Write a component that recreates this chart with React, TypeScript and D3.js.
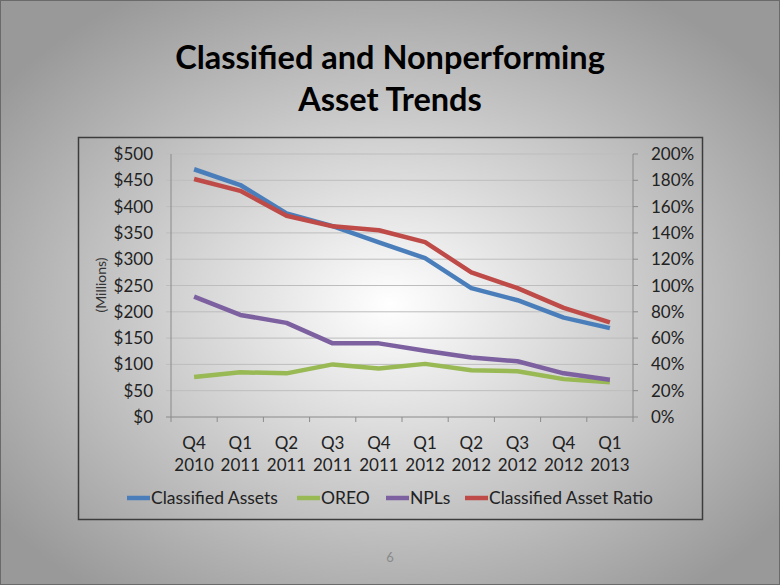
import React, {useRef, useEffect} from 'react';
import * as d3 from 'd3';

const quarters = ['Q4', 'Q1', 'Q2', 'Q3', 'Q4', 'Q1', 'Q2', 'Q3', 'Q4', 'Q1'];
const years = ['2010', '2011', '2011', '2011', '2011', '2012', '2012', '2012', '2012', '2013'];

// $ millions
const classifiedAssets = [471, 441, 387, 363, 332, 302, 245, 222, 189, 169];
const oreo = [76, 85, 83, 100, 92, 101, 89, 87, 72, 66];
const npls = [229, 194, 179, 140, 140, 126, 113, 106, 83, 71];
// percent
const classifiedRatio = [181, 172, 153, 145, 142, 133, 110, 98, 83, 72];

const leftTicks = [0, 50, 100, 150, 200, 250, 300, 350, 400, 450, 500];
const rightTicks = [0, 20, 40, 60, 80, 100, 120, 140, 160, 180, 200];

const seriesInfo = [
    {name: 'Classified Assets', color: '#4a7ebb', values: classifiedAssets, axis: 'left'},
    {name: 'OREO', color: '#98b954', values: oreo, axis: 'left'},
    {name: 'NPLs', color: '#7d60a0', values: npls, axis: 'left'},
    {name: 'Classified Asset Ratio', color: '#be4b48', values: classifiedRatio, axis: 'right'},
];

const W = 780;
const H = 585;
const FONT = 'Lato, "Open Sans", sans-serif';

const App: React.FC = () => {
    const svgRef = useRef<SVGSVGElement>(null);

    useEffect(() => {
        if (!svgRef.current) return;
        const svg = d3.select(svgRef.current);
        svg.selectAll('*').remove();

        // background gradient
        const defs = svg.append('defs');
        const grad = defs.append('radialGradient')
            .attr('id', 'bg')
            .attr('cx', '50%').attr('cy', '52%').attr('r', '62%');
        grad.append('stop').attr('offset', '0%').attr('stop-color', '#ffffff');
        grad.append('stop').attr('offset', '100%').attr('stop-color', '#999999');

        svg.append('rect').attr('width', W).attr('height', H).attr('fill', 'url(#bg)');
        svg.append('rect').attr('x', 0.5).attr('y', 0.5).attr('width', W - 1).attr('height', H - 1)
            .attr('fill', 'none').attr('stroke', '#6a6a6a');

        // title
        const title = svg.append('text')
            .attr('text-anchor', 'middle')
            .style('font-family', FONT)
            .style('font-weight', 'bold')
            .style('font-size', '32.5px')
            .attr('fill', '#000');
        title.append('tspan').attr('x', W / 2).attr('y', 69).text('Classified and Nonperforming');
        title.append('tspan').attr('x', W / 2).attr('y', 111).text('Asset Trends');

        // chart frame
        svg.append('rect').attr('x', 78.5).attr('y', 137.5).attr('width', 624).attr('height', 382)
            .attr('fill', 'none').attr('stroke', '#3c3c3c').attr('stroke-width', 1.5);

        const left = 171, right = 633, top = 154, bottom = 417;

        const x = d3.scaleBand<number>()
            .domain(d3.range(quarters.length))
            .range([left, right]);
        const yL = d3.scaleLinear().domain([0, 500]).range([bottom, top]);
        const yR = d3.scaleLinear().domain([0, 200]).range([bottom, top]);

        // gridlines
        svg.append('g').selectAll('line').data(leftTicks).enter().append('line')
            .attr('x1', left - 5).attr('x2', right)
            .attr('y1', d => yL(d)).attr('y2', d => yL(d))
            .attr('stroke', d => d === 0 ? '#8a8a8a' : '#bdbdbd').attr('stroke-width', 1);

        // right axis ticks
        svg.append('g').selectAll('line').data(rightTicks).enter().append('line')
            .attr('x1', right).attr('x2', right + 5)
            .attr('y1', d => yR(d)).attr('y2', d => yR(d))
            .attr('stroke', '#8a8a8a');

        // axis lines
        svg.append('line').attr('x1', left).attr('x2', left).attr('y1', top).attr('y2', bottom)
            .attr('stroke', '#8a8a8a');
        svg.append('line').attr('x1', right).attr('x2', right).attr('y1', top).attr('y2', bottom)
            .attr('stroke', '#8a8a8a');

        // category ticks
        svg.append('g').selectAll('line').data(d3.range(quarters.length + 1)).enter().append('line')
            .attr('x1', d => left + d * x.bandwidth()).attr('x2', d => left + d * x.bandwidth())
            .attr('y1', bottom).attr('y2', bottom + 5)
            .attr('stroke', '#8a8a8a');

        // left labels
        svg.append('g').selectAll('text').data(leftTicks).enter().append('text')
            .attr('x', 153).attr('y', d => yL(d) + 6)
            .attr('text-anchor', 'end')
            .style('font-family', FONT).style('font-size', '17px')
            .attr('fill', '#222')
            .text(d => `$${d}`);

        // right labels
        svg.append('g').selectAll('text').data(rightTicks).enter().append('text')
            .attr('x', 651).attr('y', d => yR(d) + 6)
            .style('font-family', FONT).style('font-size', '17px')
            .attr('fill', '#222')
            .text(d => `${d}%`);

        // category labels
        const cat = svg.append('g').selectAll('text').data(quarters).enter().append('text')
            .attr('text-anchor', 'middle')
            .style('font-family', FONT).style('font-size', '17px')
            .attr('fill', '#222');
        cat.append('tspan').attr('x', (_, i) => x(i)! + x.bandwidth() / 2).attr('y', 449).text(d => d);
        cat.append('tspan').attr('x', (_, i) => x(i)! + x.bandwidth() / 2).attr('y', 471).text((_, i) => years[i]);

        // axis title
        svg.append('text')
            .attr('transform', 'translate(106,285) rotate(-90)')
            .attr('text-anchor', 'middle')
            .style('font-family', FONT).style('font-size', '14px')
            .attr('fill', '#333')
            .text('(Millions)');

        // lines
        seriesInfo.forEach(s => {
            const yScale = s.axis === 'left' ? yL : yR;
            const line = d3.line<number>()
                .x((_, i) => x(i)! + x.bandwidth() / 2)
                .y(d => yScale(d));
            svg.append('path')
                .datum(s.values)
                .attr('d', line)
                .attr('fill', 'none')
                .attr('stroke', s.color)
                .attr('stroke-width', 4.5)
                .attr('stroke-linejoin', 'round');
        });

        // legend
        const legendX = [127, 297, 386, 465];
        seriesInfo.forEach((s, i) => {
            const g = svg.append('g').attr('transform', `translate(${legendX[i]}, 498)`);
            g.append('line').attr('x1', 0).attr('x2', 23).attr('y1', 0).attr('y2', 0)
                .attr('stroke', s.color).attr('stroke-width', 4.5);
            g.append('text').attr('x', 24).attr('y', 6)
                .style('font-family', FONT).style('font-size', '17.5px')
                .attr('fill', '#222')
                .text(s.name);
        });

        // page number
        svg.append('text')
            .attr('x', W / 2).attr('y', 562)
            .attr('text-anchor', 'middle')
            .style('font-family', FONT).style('font-size', '13px')
            .attr('fill', '#8a8a8a')
            .text('6');
    }, []);

    return (
        <svg
            ref={svgRef}
            width={W}
            height={H}
            style={{position: 'absolute', left: 0, top: 0}}
        />
    );
};

export default App;
